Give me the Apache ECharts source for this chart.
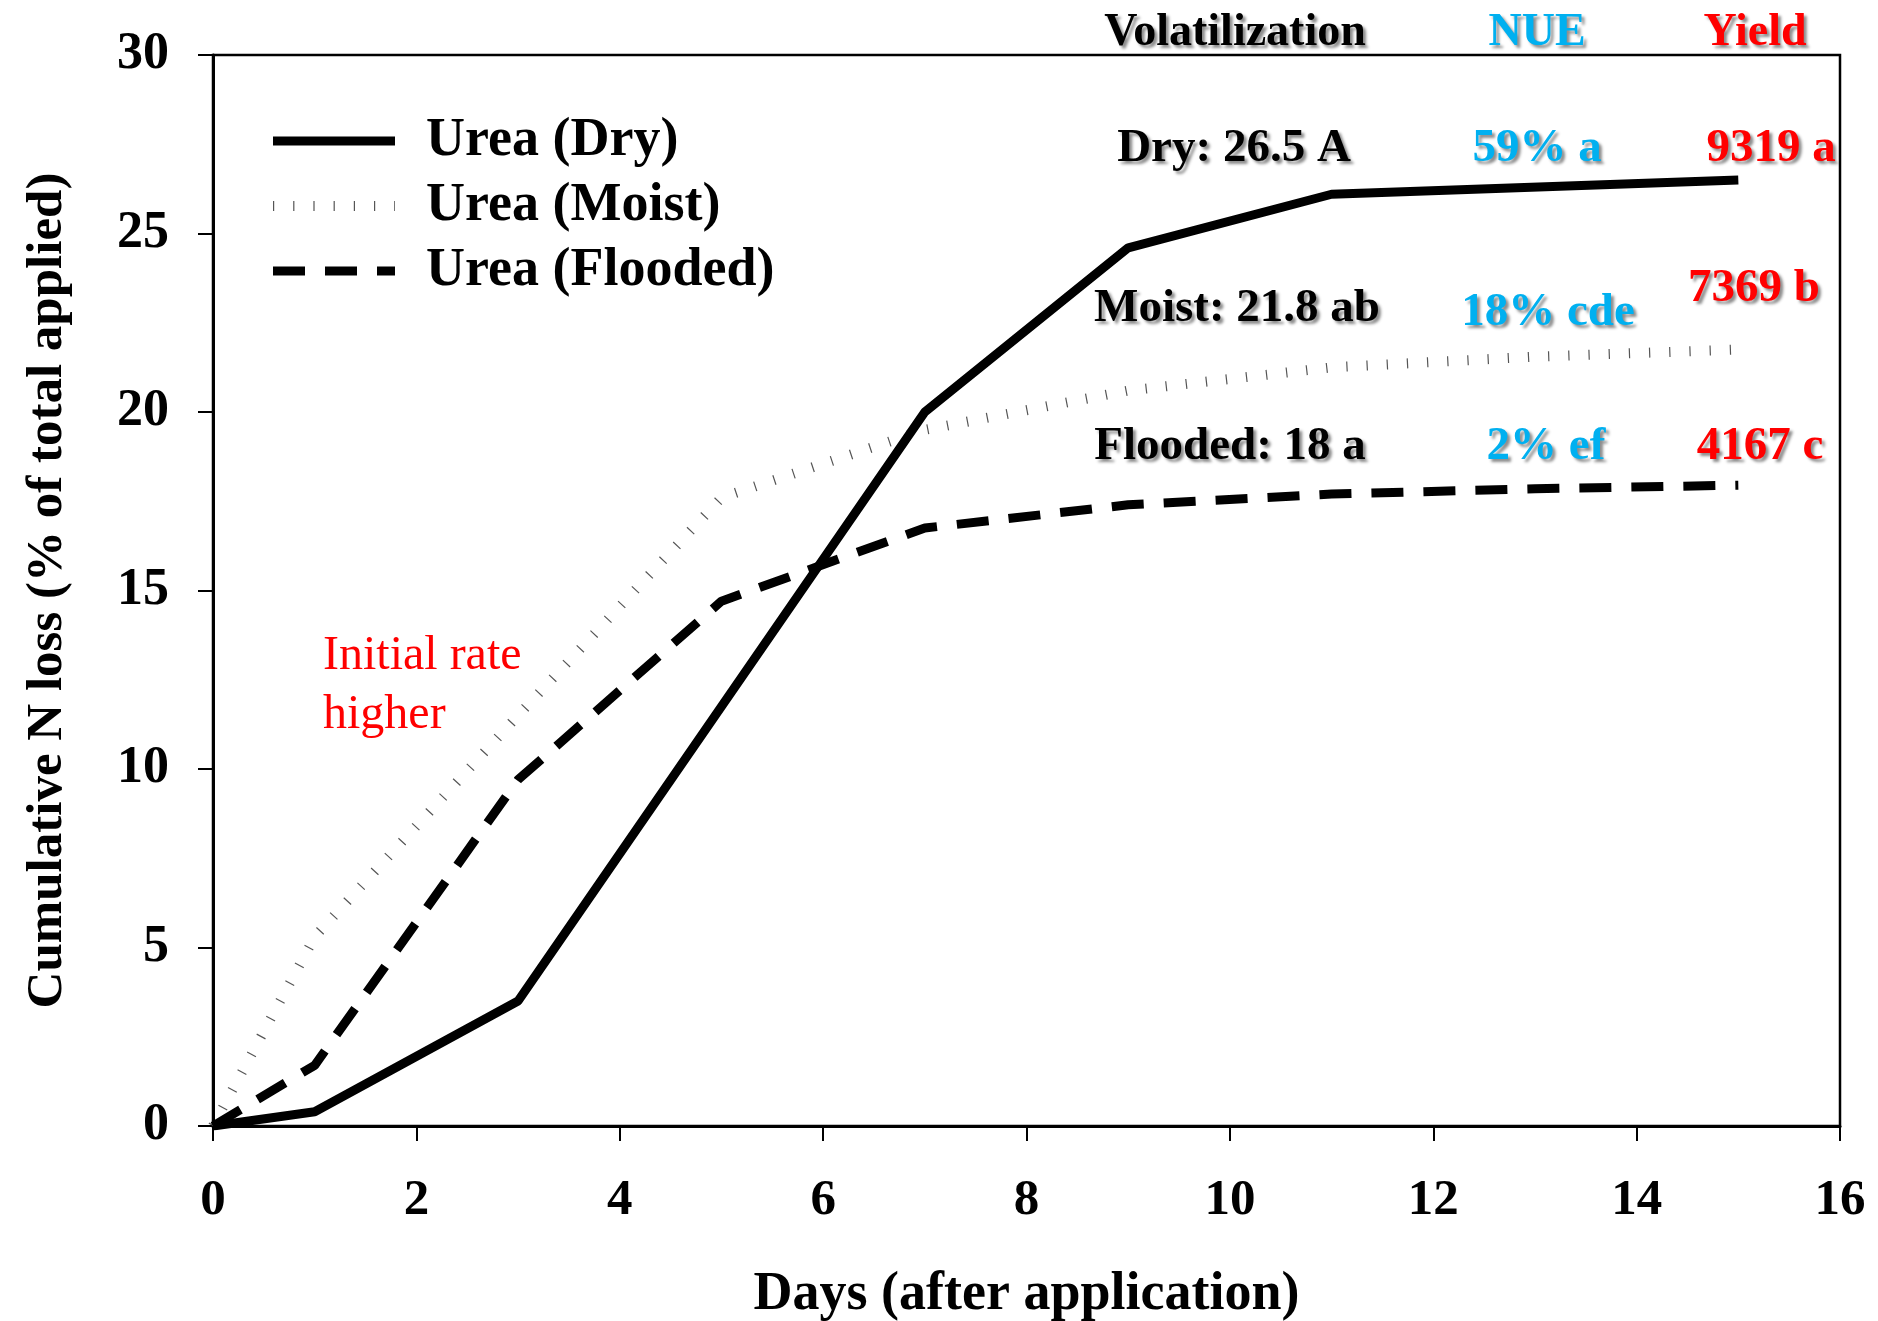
<!DOCTYPE html>
<html><head><meta charset="utf-8">
<script src="https://cdn.jsdelivr.net/npm/echarts@6/dist/echarts.min.js"></script>
<style>html,body{margin:0;padding:0;background:#fff}#c{width:1878px;height:1321px}</style>
</head><body><div id="c"></div>
<script>
// ---- data ----
const seriesNames = ['Urea (Dry)', 'Urea (Moist)', 'Urea (Flooded)'];
const dryDays = [0, 1, 3, 7, 9, 11, 15];
const dryLoss = [0, 0.4, 3.5, 20.0, 24.6, 26.1, 26.5];
const moistDays = [0, 1, 3, 5, 7, 9, 11, 13, 15];
const moistLoss = [0, 5.3, 11.5, 17.6, 19.5, 20.6, 21.25, 21.55, 21.75];
const floodDays = [0, 1, 3, 5, 7, 9, 11, 13, 15];
const floodLoss = [0, 1.7, 9.7, 14.7, 16.75, 17.4, 17.7, 17.85, 17.95];
const xTickLabels = [0, 2, 4, 6, 8, 10, 12, 14, 16];
const yTickLabels = [0, 5, 10, 15, 20, 25, 30];
const xTitle = 'Days (after application)';
const yTitle = 'Cumulative N loss (% of total applied)';
const headerLabels = ['Volatilization', 'NUE', 'Yield'];
const volLabels = ['Dry: 26.5 A', 'Moist: 21.8 ab', 'Flooded: 18 a'];
const nueLabels = ['59% a', '18% cde', '2% ef'];
const yieldLabels = ['9319 a', '7369 b', '4167 c'];
const noteLines = ['Initial rate', 'higher'];

// ---- styles ----
const FONT = '"Liberation Serif", "Times New Roman", serif';
const BLACK = '#000000', CYAN = '#00B0F0', RED = '#FF0000', GREY = '#555555';
const dryStyle = { color: BLACK, width: 9, type: 'solid' };
const moistStyle = { color: GREY, width: 10, type: [1.2, 19], cap: 'butt' };
const floodStyle = { color: BLACK, width: 9, type: [32, 20], cap: 'butt' };
const hiddenSymbol = { color: 'transparent', borderColor: 'transparent', borderWidth: 0, opacity: 0 };

const pairs = (xs, ys) => xs.map((x, i) => [x, ys[i]]);

const shadow = { textShadowColor: 'rgba(0,0,0,0.45)', textShadowBlur: 3, textShadowOffsetX: 3, textShadowOffsetY: 3 };
function txt(str, x, y, color, size, weight, sh, align) {
  const a = align || 'center';
  return {
    type: 'text', x: x, y: y, z: 100,
    style: Object.assign({
      text: str, fill: color,
      font: (weight || 'bold') + ' ' + size + 'px ' + FONT,
      align: a, verticalAlign: 'middle',
      textAlign: a, textVerticalAlign: 'middle'
    }, sh ? shadow : {})
  };
}

const graphics = [
  txt(headerLabels[0], 1235, 33, BLACK, 46, 'bold', true),
  txt(headerLabels[1], 1537, 33, CYAN, 46, 'bold', true),
  txt(headerLabels[2], 1755, 33, RED, 46, 'bold', true),
  txt(volLabels[0], 1234, 149, BLACK, 47, 'bold', true),
  txt(nueLabels[0], 1537, 149, CYAN, 47, 'bold', true),
  txt(yieldLabels[0], 1771, 149, RED, 47, 'bold', true),
  txt(volLabels[1], 1237, 309, BLACK, 47, 'bold', true),
  txt(nueLabels[1], 1548, 313, CYAN, 47, 'bold', true),
  txt(yieldLabels[1], 1754, 289, RED, 47, 'bold', true),
  txt(volLabels[2], 1230, 447, BLACK, 47, 'bold', true),
  txt(nueLabels[2], 1546, 447, CYAN, 47, 'bold', true),
  txt(yieldLabels[2], 1760, 447, RED, 47, 'bold', true),
  txt(noteLines[0], 323, 656, RED, 48, 'normal', false, 'left'),
  txt(noteLines[1], 323, 715, RED, 48, 'normal', false, 'left')
];

const chart = echarts.init(document.getElementById('c'), null, { renderer: 'canvas' });
chart.setOption({
  backgroundColor: '#ffffff',
  animation: false,
  grid: { left: 213, right: 38, top: 55, bottom: 195, show: true, borderColor: BLACK, borderWidth: 2.5,
    containLabel: false, outerBoundsMode: 'none' },
  legend: {
    orient: 'vertical', left: 268, top: 114, padding: 0,
    itemWidth: 122, itemHeight: 20, itemGap: 11,
    textStyle: { fontFamily: FONT, fontWeight: 'bold', fontSize: 54, color: BLACK, lineHeight: 54, padding: [0, 0, 0, 26] },
    itemStyle: hiddenSymbol,
    data: [
      { name: seriesNames[0], itemStyle: hiddenSymbol, lineStyle: { width: 9, type: 'solid', color: BLACK } },
      { name: seriesNames[1], itemStyle: hiddenSymbol, lineStyle: { width: 10, type: [1.2, 19], color: GREY, cap: 'butt' } },
      { name: seriesNames[2], itemStyle: hiddenSymbol, lineStyle: { width: 9, type: [32, 20], color: BLACK, cap: 'butt' } }
    ]
  },
  xAxis: {
    type: 'value', min: 0, max: 16, interval: 2,
    name: xTitle, nameLocation: 'middle', nameGap: 142,
    nameTextStyle: { fontFamily: FONT, fontWeight: 'bold', fontSize: 54, color: BLACK },
    axisLine: { show: true, onZero: false, lineStyle: { color: BLACK, width: 3 } },
    axisTick: { show: true, inside: false, length: 15, lineStyle: { color: BLACK, width: 2 } },
    axisLabel: { margin: 49, fontFamily: FONT, fontWeight: 'bold', fontSize: 51, color: BLACK,
      formatter: v => (xTickLabels.indexOf(v) >= 0 ? String(v) : '') },
    splitLine: { show: false }
  },
  yAxis: {
    type: 'value', min: 0, max: 30, interval: 5,
    name: yTitle, nameLocation: 'middle', nameGap: 140, nameRotate: 90,
    nameTextStyle: { fontFamily: FONT, fontWeight: 'bold', fontSize: 51, color: BLACK },
    axisLine: { show: true, onZero: false, lineStyle: { color: BLACK, width: 3 } },
    axisTick: { show: true, inside: false, length: 15, lineStyle: { color: BLACK, width: 2 } },
    axisLabel: { margin: 44, fontFamily: FONT, fontWeight: 'bold', fontSize: 52, color: BLACK,
      formatter: v => (yTickLabels.indexOf(v) >= 0 ? String(v) : '') },
    splitLine: { show: false }
  },
  series: [
    { name: seriesNames[1], type: 'line', data: pairs(moistDays, moistLoss), symbol: 'none', smooth: false, lineStyle: moistStyle, itemStyle: { color: GREY }, z: 2 },
    { name: seriesNames[2], type: 'line', data: pairs(floodDays, floodLoss), symbol: 'none', smooth: false, lineStyle: floodStyle, itemStyle: { color: BLACK }, z: 3 },
    { name: seriesNames[0], type: 'line', data: pairs(dryDays, dryLoss), symbol: 'none', smooth: false, lineStyle: dryStyle, itemStyle: { color: BLACK }, z: 4 }
  ],
  graphic: graphics
});
</script>
</body></html>
